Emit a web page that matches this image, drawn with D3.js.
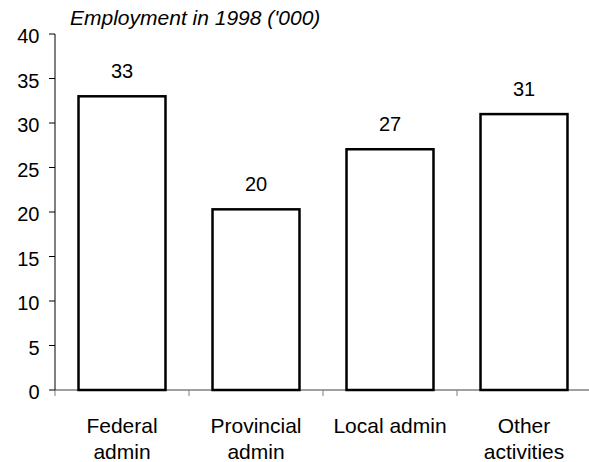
<!DOCTYPE html>
<html><head><meta charset="utf-8">
<script src="https://cdn.jsdelivr.net/npm/d3@7"></script>
<style>body{margin:0;background:#fff}svg{display:block}text{font-family:"Liberation Sans",Arial,sans-serif;fill:#000}</style>
</head><body><svg id="c" width="589" height="462"></svg>
<script>
const categories = [["Federal","admin"],["Provincial","admin"],["Local admin"],["Other","activities"]];
const values = [33.0, 20.3, 27.05, 31.0];
const labels = ["33","20","27","31"];
const yTicks = [0,5,10,15,20,25,30,35,40];
const title = "Employment in 1998 ('000)";

const svg = d3.select("#c");
const x = d3.scaleBand().domain(d3.range(categories.length)).range([55, 591]).paddingInner(0.336).paddingOuter(0.168);
const y = d3.scaleLinear().domain([0,40]).range([390, 34]);

// x axis (drawn first so bar outlines sit on top)
svg.append("line").attr("x1",55).attr("x2",589).attr("y1",y(0)).attr("y2",y(0)).attr("stroke","#808080").attr("stroke-width",1.5);
svg.selectAll("line.xt").data(d3.range(categories.length)).join("line").attr("class","xt")
  .attr("x1",i=>x(i)-x.step()*x.paddingInner()/2).attr("x2",i=>x(i)-x.step()*x.paddingInner()/2)
  .attr("y1",y(0)).attr("y2",y(0)+6).attr("stroke","#808080");

// y axis
const ya = svg.append("g").attr("transform","translate(55,0)");
ya.append("line").attr("x1",0).attr("x2",0).attr("y1",y(0)).attr("y2",y(40)).attr("stroke","#000");
ya.selectAll("line.t").data(yTicks).join("line").attr("class","t")
  .attr("x1",-6).attr("x2",0).attr("y1",d=>y(d)).attr("y2",d=>y(d)).attr("stroke","#000");
ya.selectAll("text").data(yTicks).join("text")
  .attr("x",-15.5).attr("y",d=>y(d)+2).attr("dy","0.35em").attr("text-anchor","end")
  .attr("font-size",20).text(d=>d);

// bars
svg.selectAll("rect.bar").data(values).join("rect").attr("class","bar")
  .attr("x",(d,i)=>x(i)+1).attr("width",x.bandwidth()-2)
  .attr("y",d=>y(d)).attr("height",d=>y(0)-y(d))
  .attr("fill","#fff").attr("stroke","#000").attr("stroke-width",2.5);

// value labels
svg.selectAll("text.v").data(values).join("text").attr("class","v")
  .attr("x",(d,i)=>x(i)+x.bandwidth()/2).attr("y",d=>y(d)-18)
  .attr("text-anchor","middle").attr("font-size",20).text((d,i)=>labels[i]);

// category labels
const cl = svg.selectAll("text.c").data(categories).join("text").attr("class","c")
  .attr("text-anchor","middle").attr("font-size",21);
cl.each(function(lines,i){
  d3.select(this).selectAll("tspan").data(lines).join("tspan")
    .attr("x",x(i)+x.bandwidth()/2).attr("y",(l,j)=>433+j*26).text(l=>l);
});

// title
svg.append("text").attr("x",70).attr("y",25).attr("font-size",21).attr("font-style","italic").text(title);
</script></body></html>
